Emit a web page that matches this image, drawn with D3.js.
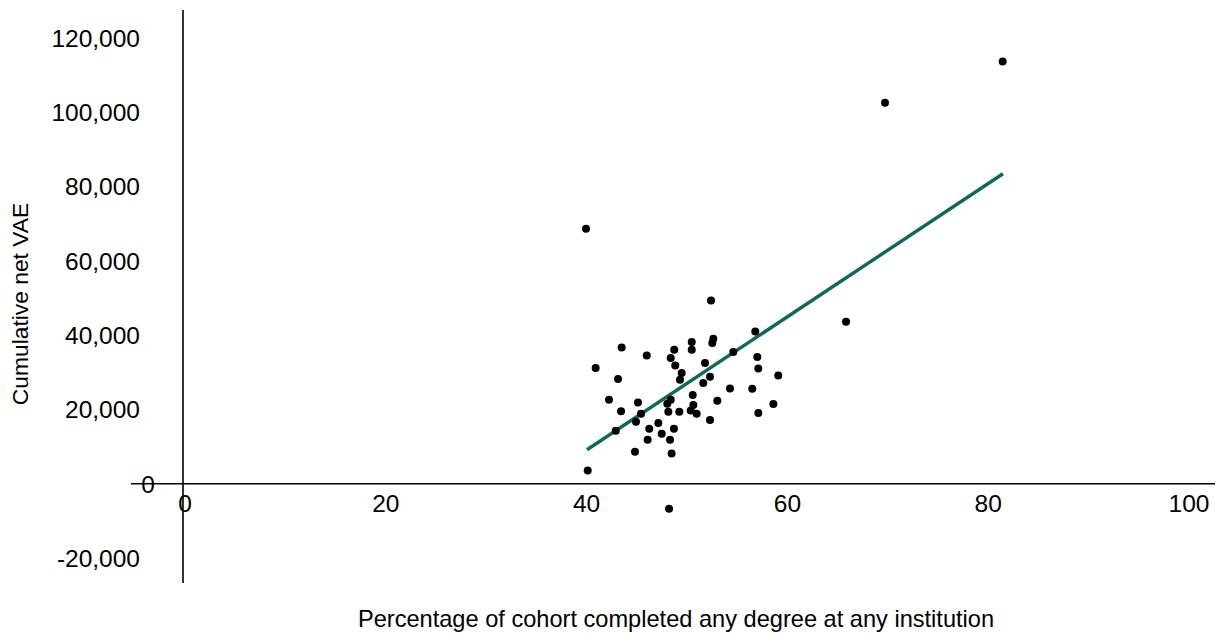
<!DOCTYPE html>
<html>
<head>
<meta charset="utf-8">
<script src="https://cdn.jsdelivr.net/npm/d3@7"></script>
<style>
  body { margin: 0; background: #fff; }
  text { font-family: "Liberation Sans", Arial, sans-serif; fill: #000; }
</style>
</head>
<body>
<div class="canvas"></div>
<script>
// data
const completion = [40.14, 40.31, 41.10, 42.43, 43.33, 43.69, 43.63, 43.10, 45.02, 45.12,
  45.32, 45.62, 46.19, 46.44, 46.28, 47.34, 47.68, 48.24, 48.58, 48.34,
  48.90, 48.51, 48.67, 48.41, 48.93, 48.58, 49.03, 49.67, 49.50, 49.43,
  50.67, 50.67, 52.59, 52.82, 52.72, 51.99, 52.49, 51.82, 50.77, 50.83,
  50.57, 51.16, 52.49, 53.22, 54.48, 54.81, 56.70, 57.00, 57.20, 57.30,
  57.30, 58.80, 59.29, 66.04, 69.92, 81.64];
const netVAE = [68650, 3580, 31150, 22610, 28190, 36690, 19520, 14270, 8610, 16690,
  21890, 18840, 34540, 14810, 11840, 16340, 13460, 21540, 22610, 19380,
  14810, 11840, 8160, -6730, 36070, 33840, 31850, 29800, 28000, 19380,
  38150, 36070, 49340, 39030, 37880, 32490, 28800, 27110, 23880, 21190,
  19730, 18840, 17150, 22340, 25650, 35450, 25570, 41000, 34110, 31040,
  19030, 21460, 29150, 43610, 102570, 113680];
const trendX = [40.24, 81.67];
const trendY = [9150, 83450];
const xTicks = [0, 20, 40, 60, 80, 100];
const yTicks = [-20000, 0, 20000, 40000, 60000, 80000, 100000, 120000];

const svg = d3.select('.canvas').append('svg')
  .attr('width', 1232)
  .attr('height', 633);

const x = d3.scaleLinear().domain([0, 100]).range([183, 1187]);
const y = d3.scaleLinear().domain([-20000, 120000]).range([558, 38]);
// plain hyphen for negatives, like the original
const fmt = d => d3.format(',')(d).replace('\u2212', '-');

// axis lines
svg.append('line')
  .attr('x1', 131).attr('x2', 1215)
  .attr('y1', y(0)).attr('y2', y(0))
  .attr('stroke', '#000').attr('stroke-width', 1.6);
svg.append('line')
  .attr('x1', x(0)).attr('x2', x(0))
  .attr('y1', 10).attr('y2', 583)
  .attr('stroke', '#000').attr('stroke-width', 1.6);

// y tick labels
svg.selectAll('.ylab')
  .data(yTicks)
  .enter().append('text')
  .attr('class', 'ylab')
  .attr('x', d => d === 0 ? 155 : 140)
  .attr('y', d => y(d))
  .attr('dy', '0.36em')
  .attr('text-anchor', 'end')
  .style('font-size', '24.5px')
  .text(d => fmt(d));

// x tick labels
svg.selectAll('.xlab')
  .data(xTicks)
  .enter().append('text')
  .attr('class', 'xlab')
  .attr('x', d => x(d) + 2)
  .attr('y', 503)
  .attr('dy', '0.36em')
  .attr('text-anchor', 'middle')
  .style('font-size', '24.5px')
  .text(d => d);

// trend line
svg.append('line')
  .attr('x1', x(trendX[0])).attr('y1', y(trendY[0]))
  .attr('x2', x(trendX[1])).attr('y2', y(trendY[1]))
  .attr('stroke', '#0b6b58')
  .attr('stroke-width', 3.4);

// points
svg.selectAll('circle')
  .data(completion)
  .enter().append('circle')
  .attr('cx', d => x(d))
  .attr('cy', (d, i) => y(netVAE[i]))
  .attr('r', 4)
  .attr('fill', '#000');

// axis titles
svg.append('text')
  .attr('transform', 'translate(28,304) rotate(-90)')
  .attr('text-anchor', 'middle')
  .style('font-size', '22.8px')
  .text('Cumulative net VAE');

svg.append('text')
  .attr('x', 676)
  .attr('y', 619)
  .attr('dy', '0.35em')
  .attr('text-anchor', 'middle')
  .style('font-size', '23.6px')
  .text('Percentage of cohort completed any degree at any institution');
</script>
</body>
</html>
